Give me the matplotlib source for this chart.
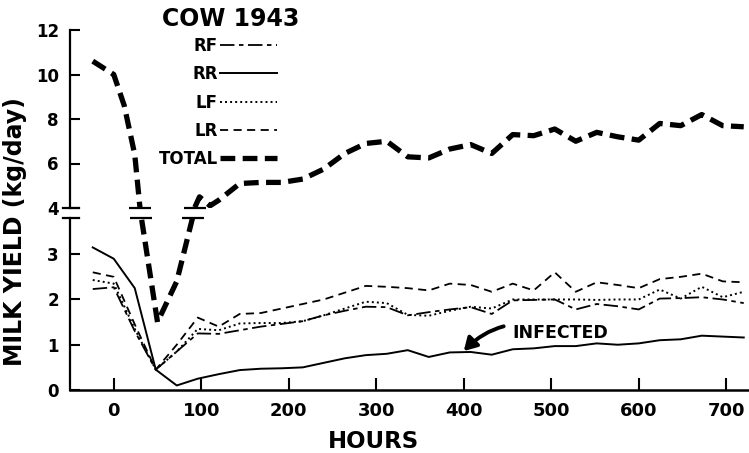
import numpy as np
import matplotlib
matplotlib.use("Agg")
import matplotlib.pyplot as plt
from matplotlib.lines import Line2D

plt.rcParams['font.family'] = ['DejaVu Sans']
plt.rcParams['font.weight'] = 'bold'

# ---------------- data ----------------
hours = [-24, 0, 24, 48, 72, 96, 120, 144, 168, 192, 216, 240, 264, 288, 312,
         336, 360, 384, 408, 432, 456, 480, 504, 528, 552, 576, 600, 624, 648,
         672, 696, 720]
rf = [2.23, 2.27, 1.30, 0.45, 0.85, 1.25, 1.24, 1.32, 1.40, 1.46, 1.52, 1.65,
      1.75, 1.84, 1.83, 1.65, 1.72, 1.78, 1.83, 1.68, 1.98, 1.99, 2.00, 1.78,
      1.90, 1.85, 1.78, 2.02, 2.03, 2.05, 2.00, 1.92]
rr = [3.15, 2.90, 2.25, 0.45, 0.10, 0.25, 0.35, 0.44, 0.47, 0.48, 0.50, 0.60,
      0.70, 0.77, 0.80, 0.88, 0.73, 0.83, 0.84, 0.78, 0.90, 0.92, 0.97, 0.97,
      1.03, 1.00, 1.03, 1.10, 1.12, 1.20, 1.18, 1.16]
lf = [2.43, 2.35, 1.35, 0.45, 0.85, 1.35, 1.32, 1.47, 1.48, 1.48, 1.52, 1.65,
      1.80, 1.95, 1.92, 1.66, 1.64, 1.75, 1.84, 1.80, 2.00, 2.00, 2.00, 2.00,
      1.99, 2.00, 2.00, 2.22, 2.02, 2.28, 2.05, 2.17]
lr = [2.60, 2.50, 1.45, 0.45, 1.00, 1.60, 1.40, 1.68, 1.70, 1.80, 1.90, 2.00,
      2.15, 2.30, 2.28, 2.25, 2.20, 2.35, 2.32, 2.17, 2.35, 2.20, 2.60, 2.17,
      2.38, 2.32, 2.25, 2.45, 2.50, 2.57, 2.40, 2.38]

hours_total = [-24, 0, 12, 24, 30, 50, 72, 90, 98, 110, 120, 144, 168, 192,
               216, 240, 264, 288, 312, 336, 360, 384, 408, 432, 456, 480, 504,
               528, 552, 576, 600, 624, 648, 672, 696, 720]
total = [10.6, 10.0, 8.6, 6.4, 4.0, 1.5, 2.4, 3.8, 4.5, 4.1, 4.35, 5.1, 5.15,
         5.15, 5.3, 5.75, 6.45, 6.9, 7.0, 6.3, 6.25, 6.65, 6.85, 6.45, 7.3,
         7.25, 7.55, 7.0, 7.4, 7.2, 7.05, 7.8, 7.7, 8.2, 7.7, 7.65]

x_ticks = [0, 100, 200, 300, 400, 500, 600, 700]
y_ticks_low = [0, 1, 2, 3]
y_ticks_up = [4, 6, 8, 10, 12]
infected_point = (400, 0.86)

# ---------------- styles ----------------
XLIM = (-50, 726)
LOW_LIM = (0, 3.8)
UP_LIM = (4, 12)
styles = {
    'RF': dict(color='black', lw=1.3, linestyle=(0, (8, 2.5, 2.5, 2.5))),
    'RR': dict(color='black', lw=1.4, linestyle='-'),
    'LF': dict(color='black', lw=1.4, linestyle=(0, (1, 1.6))),
    'LR': dict(color='black', lw=1.3, linestyle=(0, (4.5, 3))),
    'TOTAL': dict(color='black', lw=3.8, linestyle=(0, (2.8, 1.4))),
}

fig = plt.figure(figsize=(7.49, 4.53), dpi=100)
W, H = 749, 453
L = 70 / W
AW = 679 / W
ax_lo = fig.add_axes([L, (H - 390) / H, AW, 172 / H])
ax_up = fig.add_axes([L, (H - 208) / H, AW, 178 / H])

for ax in (ax_lo, ax_up):
    ax.set_xlim(*XLIM)
    ax.spines['top'].set_visible(False)
    ax.spines['right'].set_visible(False)
    ax.spines['left'].set_linewidth(1.6)
    ax.spines['bottom'].set_linewidth(1.8)
    ax.patch.set_alpha(0)

ax_lo.set_ylim(*LOW_LIM)
ax_up.set_ylim(*UP_LIM)
ax_up.spines['bottom'].set_visible(False)
ax_up.set_xticks([])

ax_lo.set_xticks(x_ticks)
ax_lo.set_yticks(y_ticks_low)
ax_up.set_yticks(y_ticks_up)
ax_lo.tick_params(axis='x', direction='in', length=9, width=1.5, pad=9,
                  labelsize=13)
ax_lo.tick_params(axis='y', direction='in', length=7, width=1.5, pad=8,
                  labelsize=12)
ax_up.tick_params(axis='y', direction='in', length=7, width=1.5, pad=8,
                  labelsize=12)

series = [('RF', rf), ('RR', rr), ('LF', lf), ('LR', lr)]
for name, vals in series:
    ax_lo.plot(hours, vals, dash_capstyle='butt', **styles[name])

for ax in (ax_lo, ax_up):
    ax.plot(hours_total, total, dash_capstyle='butt', **styles['TOTAL'])

# axis break marks on y axis
for ax, yy in ((ax_up, 0.0), (ax_lo, 1.0)):
    ax.plot([-0.011, 0.013], [yy, yy], transform=ax.transAxes, color='black',
            lw=1.6, clip_on=False)


def crossings(xs, vs, level):
    """Hours where the series passes through a given level (deduplicated)."""
    out = []
    for i in range(len(xs) - 1):
        a, b = vs[i] - level, vs[i + 1] - level
        if a * b <= 0 and a != b:
            hx = xs[i] + (xs[i + 1] - xs[i]) * a / (a - b)
            if not any(abs(hx - o) < 1e-6 for o in out):
                out.append(hx)
    return out


for hx in crossings(hours_total, total, UP_LIM[0]):
    ax_up.plot([hx], [UP_LIM[0]], marker='_', ms=16, mew=1.6, color='black',
               clip_on=False)
for hx in crossings(hours_total, total, LOW_LIM[1]):
    ax_lo.plot([hx], [LOW_LIM[1]], marker='_', ms=16, mew=1.6, color='black',
               clip_on=False)

# legend
names = ['RF', 'RR', 'LF', 'LR', 'TOTAL']
handles = [Line2D([], [], **styles[n]) for n in names]
leg = fig.legend(handles, names,
                 loc='upper right', bbox_to_anchor=(277 / W, 1 - 37 / H),
                 markerfirst=False, frameon=False, handlelength=3.4,
                 handletextpad=0.15, labelspacing=0.62, borderpad=0,
                 borderaxespad=0, prop=dict(size=12, weight='bold'))

# annotation
ax_lo.annotate('INFECTED', xy=infected_point, xytext=(455, 1.26),
               fontsize=12.5, fontweight='bold', va='center', ha='left',
               arrowprops=dict(arrowstyle='-|>,head_width=0.35,head_length=0.6',
                               lw=2.8, color='black', shrinkA=4, shrinkB=0,
                               connectionstyle='arc3,rad=0.35'))

fig.text(231 / W, 1 - 19 / H, 'COW 1943', fontsize=17, fontweight='bold',
         ha='center', va='center')
fig.text(15 / W, 1 - 232 / H, 'MILK YIELD (kg/day)', fontsize=17,
         fontweight='bold', rotation=90, ha='center', va='center')
fig.text(373 / W, 1 - 441 / H, 'HOURS', fontsize=16.5, fontweight='bold',
         ha='center', va='center')

fig.savefig('out.png', dpi=100)
